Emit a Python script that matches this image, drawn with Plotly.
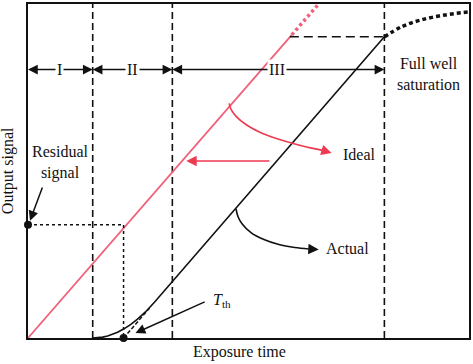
import plotly.graph_objects as go

# ---------------- data (schematic units) ----------------
x_max, y_max = 443, 336
region_bounds = [0, 65, 145, 358]          # I | II | III | saturation
region_labels = ["I", "II", "III"]
region_label_x = [32, 105, 250]
region_arrow_y = 270

ideal_x = [0, 265]
ideal_y = [0, 305]
ideal_ext_x = [265, 292]
ideal_ext_y = [305, 336]

actual_x = [65, 70, 75, 80, 85, 90, 96, 103, 110, 118, 127, 358]
actual_y = [0, 0.2, 0.9, 2.1, 3.7, 5.8, 9.0, 13.5, 18.9, 26.2, 35.9, 303]

sat_x = [358, 375, 395, 419, 443]
sat_y = [303, 313, 320, 325, 328]

full_well_x = [263, 358]
full_well_y = [303, 303]

residual_level = 114
t_th = 96
residual_x = [0, t_th, t_th]
residual_y = [residual_level, residual_level, 0]
dots_x = [0, t_th]
dots_y = [residual_level, 0]

tth_ext_x = [96, 122]
tth_ext_y = [0, 30]

ideal_arc_x = [202, 204, 209, 220, 235, 252, 269, 285, 297]
ideal_arc_y = [236, 230, 223, 214, 206, 200, 195, 191, 188.5]
actual_arc_x = [209, 211, 215, 224, 237, 252, 268, 282]
actual_arc_y = [130, 122, 115, 106, 99, 94, 91, 89.5]

BLACK = "#111111"
IDEAL = "#F0607A"
RED = "#EE3A50"
FONT = "Liberation Serif"

fig = go.Figure()

def line(x, y, color, width, dash="solid", shape="linear"):
    fig.add_trace(go.Scatter(x=x, y=y, mode="lines", line=dict(color=color, width=width, dash=dash, shape=shape),
                             hoverinfo="skip", showlegend=False))

# region boundary dashed verticals
for b in region_bounds[1:]:
    line([b, b], [0, y_max], BLACK, 1.6, dash="7px,4px")

line(ideal_x, ideal_y, IDEAL, 1.8)
line(ideal_ext_x, ideal_ext_y, IDEAL, 3.5, dash="3px,3px")
line(actual_x, actual_y, BLACK, 1.6)
line(sat_x, sat_y, BLACK, 3.5, dash="4px,3px", shape="spline")
line(full_well_x, full_well_y, BLACK, 1.6, dash="9px,5px")
line(residual_x, residual_y, BLACK, 1.5, dash="dot")
line(tth_ext_x, tth_ext_y, BLACK, 1.5, dash="4px,2px")
line(ideal_arc_x, ideal_arc_y, RED, 1.6, shape="spline")
line(actual_arc_x, actual_arc_y, BLACK, 1.6, shape="spline")

fig.add_trace(go.Scatter(x=dots_x, y=dots_y, mode="markers", marker=dict(color=BLACK, size=8),
                         cliponaxis=False, hoverinfo="skip", showlegend=False))

ann = []
def arrow(tail, tip, color=BLACK, w=1.5, size=1.3):
    ann.append(dict(x=tip[0], y=tip[1], ax=tail[0], ay=tail[1], xref="x", yref="y", axref="x", ayref="y",
                    text="", showarrow=True, arrowhead=2, arrowsize=size, arrowwidth=w, arrowcolor=color))

def text(x, y, s, size=16, xanchor="center", **kw):
    ann.append(dict(x=x, y=y, xref="x", yref="y", text=s, showarrow=False, xanchor=xanchor, yanchor="middle",
                    font=dict(family=FONT, size=size, color=BLACK), **kw))

# region arrows + labels
for i, lab in enumerate(region_labels):
    cx = region_label_x[i]
    arrow((cx, region_arrow_y), (region_bounds[i], region_arrow_y))
    arrow((cx, region_arrow_y), (region_bounds[i + 1], region_arrow_y))
    text(cx, region_arrow_y, lab, bgcolor="white", borderpad=1)

arrow((ideal_arc_x[-1], ideal_arc_y[-1]), (305, 186), RED, 1.6)
arrow((244, 178), (159, 178), RED, 1.6)
arrow((actual_arc_x[-1], actual_arc_y[-1]), (292, 89), BLACK, 1.6)
arrow((15, 153), (2, 118), BLACK, 1.5)
arrow((179, 37), (108, 5), BLACK, 1.5)

text(314, 185, "Ideal", xanchor="left")
text(297, 90, "Actual", xanchor="left")
text(33, 177, "Residual<br>signal")
text(402, 266, "Full well<br>saturation")
text(184, 38, "<i>T</i><sub>th</sub>", xanchor="left")

# axis titles placed in paper coordinates (outside the plotting area)
ann.append(dict(x=0.4786, y=-0.042, xref="paper", yref="paper", text="Exposure time", showarrow=False,
                xanchor="center", yanchor="middle", font=dict(family=FONT, size=16, color=BLACK)))
ann.append(dict(x=-0.045, y=0.5, xref="paper", yref="paper", text="Output signal", showarrow=False,
                textangle=-90, xanchor="center", yanchor="middle", font=dict(family=FONT, size=16, color=BLACK)))

fig.update_layout(
    width=473, height=364,
    margin=dict(l=28, r=2, t=2, b=26),
    paper_bgcolor="white", plot_bgcolor="white",
    annotations=ann,
    xaxis=dict(range=[0, x_max], showgrid=False, zeroline=False, showticklabels=False, ticks="",
               showline=True, mirror=True, linecolor=BLACK, linewidth=1.5, fixedrange=True),
    yaxis=dict(range=[0, y_max], showgrid=False, zeroline=False, showticklabels=False, ticks="",
               showline=True, mirror=True, linecolor=BLACK, linewidth=1.5, fixedrange=True),
)

fig.write_html("out.html", config={"displayModeBar": False},
               post_script="document.body.style.margin='0';document.body.style.padding='0';")
